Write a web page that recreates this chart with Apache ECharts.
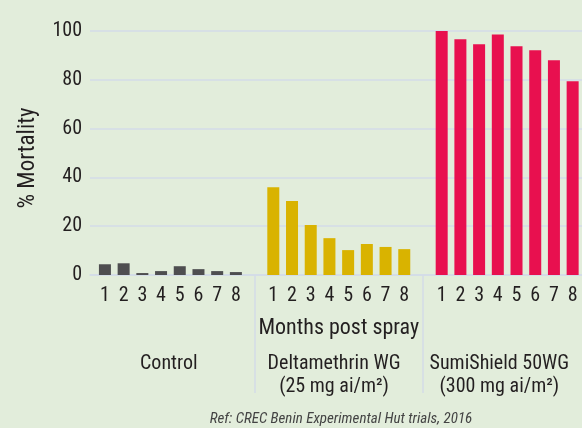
<!DOCTYPE html>
<html>
<head>
<meta charset="utf-8">
<script src="https://cdn.jsdelivr.net/npm/echarts@6/dist/echarts.min.js"></script>
<style>
html,body{margin:0;padding:0;background:#e2eddb;}
#c{width:582px;height:428px;}
</style>
</head>
<body>
<div id="c"></div>
<script>
// ---- data ----
const months = ["1","2","3","4","5","6","7","8"];
const groups = ["Control", "Deltamethrin WG\n(25 mg ai/m²)", "SumiShield 50WG\n(300 mg ai/m²)"];
const controlValues = [4.4, 4.8, 0.8, 1.6, 3.6, 2.4, 1.6, 1.2];
const deltamethrinValues = [36.0, 30.3, 20.5, 15.1, 10.2, 12.7, 11.5, 10.6];
const sumishieldValues = [100, 96.6, 94.6, 98.6, 93.7, 92.1, 88.0, 79.4];
const yTicks = [0, 20, 40, 60, 80, 100];
const refText = "Ref: CREC Benin Experimental Hut trials, 2016";

// ---- build category axis (8 months per group, one blank slot between groups) ----
const seriesValues = [controlValues, deltamethrinValues, sumishieldValues];
const categories = [];
groups.forEach((g, gi) => {
  months.forEach(m => categories.push(gi + "|" + m));
  if (gi < groups.length - 1) categories.push("gap" + gi + "|");
});
function seriesData(gi) {
  return categories.map(c => {
    const [k, m] = c.split("|");
    if (k === String(gi)) return seriesValues[gi][months.indexOf(m)];
    return null;
  });
}
const colors = ["#4e4e50", "#d9b300", "#e8104f"];
const font = "'Roboto Condensed', 'Liberation Sans Narrow', sans-serif";
const textColor = "#231f20";
const lineColor = "#d3dbe8";

const chart = echarts.init(document.getElementById('c'), null, {renderer: 'canvas'});
const step = 18.86;
const left1 = 95.57;
const width1 = step * categories.length;
const left2 = left1 + 4 * step - 9 * step / 2 ;
const width2 = 27 * step;

chart.setOption({
  backgroundColor: '#e2eddb',
  animation: false,
  grid: [
    {left: 90, right: -12, top: 31, bottom: 153},
    {left: left1, width: width1, top: 31, bottom: 153},
    {left: left2, width: width2, top: 31, bottom: 153}
  ],
  xAxis: [
    {gridIndex: 0, type: 'value', min: 0, max: 1, axisLine: {show: true, onZero: false, lineStyle: {color: lineColor, width: 1.5}},
     axisTick: {show: false}, axisLabel: {show: false}, splitLine: {show: false}},
    {gridIndex: 1, type: 'category', data: categories,
     axisLine: {show: false},
     axisTick: {show: true, alignWithLabel: true, length: 118,
                interval: (i, v) => v.startsWith('gap'),
                lineStyle: {color: lineColor, width: 1.5}},
     axisLabel: {interval: 0, margin: 11, fontFamily: font, fontSize: 20, color: textColor,
                 formatter: v => v.split('|')[1]},
     name: 'Months post spray', nameLocation: 'middle', nameGap: 42,
     nameTextStyle: {fontFamily: font, fontSize: 22, color: textColor, verticalAlign: 'top'}},
    {gridIndex: 2, type: 'category', data: groups,
     axisLine: {show: false}, axisTick: {show: false},
     axisLabel: {interval: 0, margin: 77, fontFamily: font, fontSize: 20, lineHeight: 23, color: textColor}}
  ],
  yAxis: [
    {gridIndex: 0, type: 'value', min: yTicks[0], max: yTicks[yTicks.length - 1], interval: 20,
     axisLine: {show: false}, axisTick: {show: false},
     axisLabel: {margin: 8, fontFamily: font, fontSize: 20, color: textColor},
     splitLine: {lineStyle: {color: lineColor, width: 1.5}},
     name: '% Mortality', nameLocation: 'middle', nameGap: 50, nameRotate: 90,
     nameTextStyle: {fontFamily: font, fontSize: 23, color: textColor, padding: [0, 10, 0, 0]}},
    {gridIndex: 1, type: 'value', min: 0, max: 100, show: false},
    {gridIndex: 2, type: 'value', min: 0, max: 100, show: false}
  ],
  series: seriesValues.map((v, gi) => ({
    type: 'bar', xAxisIndex: 1, yAxisIndex: 1, stack: 'all',
    barWidth: 12, data: seriesData(gi),
    itemStyle: {color: colors[gi]}
  })),
  graphic: [{
    type: 'text', x: 341, y: 419,
    style: {text: refText, textAlign: 'center', textVerticalAlign: 'middle',
            font: "italic 15px " + font, fill: '#444'}
  }]
});
</script>
</body>
</html>
